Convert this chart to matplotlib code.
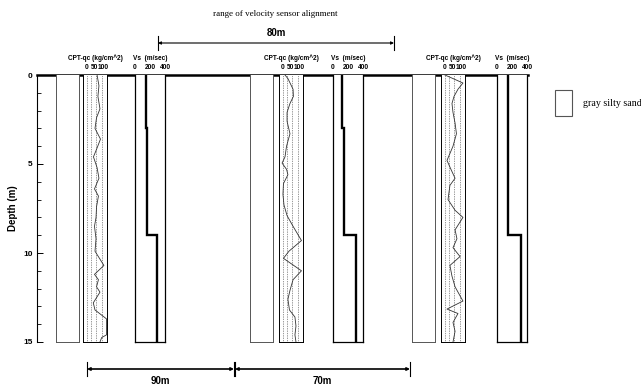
import matplotlib
matplotlib.use("Agg")
import matplotlib.pyplot as plt
from matplotlib.patches import Rectangle
import numpy as np

W, H = 641, 387
DPI = 100

# ---- data -------------------------------------------------------------
depth_ticks = [0, 5, 10, 15]
depth_minor = list(range(0, 16))

# CPT cone resistance qc (kg/cm^2) against depth (m) for the three holes
cpt1_depth = [0, 0.6, 1.2, 1.9, 2.4, 3.0, 3.6, 4.1, 4.6, 5.2, 5.8, 6.4, 6.8, 7.4,
              8.0, 8.5, 9.2, 9.9, 10.7, 11.2, 11.5, 11.9, 12.2, 12.8, 13.2, 13.7,
              14.6, 14.75, 15]
cpt1_qc = [62, 73, 67, 79, 59, 50, 82, 62, 41, 62, 73, 47, 70, 59,
           56, 47, 56, 50, 102, 47, 70, 59, 79, 40, 50, 117,
           117, 89, 79]

cpt2_depth = [0, 0.2, 0.8, 1.2, 1.6, 2.1, 2.6, 3.3, 4.0, 4.6, 4.95, 5.3, 5.6, 6.1,
              6.7, 7.3, 7.9, 8.5, 9.3, 9.9, 10.3, 11.0, 11.5, 12.1, 12.6, 13.2,
              13.6, 14.1, 14.6, 15]
cpt2_qc = [15, 32, 62, 64, 44, 27, 27, 44, 24, 15, -2, 24, 32, 6,
           3, 9, 27, 62, 111, 38, 6, 111, 62, 44, 32, 41,
           73, 79, 73, 79]

cpt3_depth = [0, 0.2, 0.45, 0.8, 1.2, 1.6, 2.1, 2.7, 3.3, 4.0, 4.8, 5.3, 5.8, 6.2,
              7.0, 7.6, 8.0, 8.7, 9.2, 9.7, 10.2, 10.7, 11.3, 11.9, 12.7, 13.15,
              13.4, 13.9, 14.4, 15]
cpt3_qc = [3, 50, 108, 79, 56, 44, 50, 62, 70, 50, 15, 38, 62, 32,
           21, 62, 108, 62, 73, 50, 91, 32, 44, 62, 108, 15,
           79, 50, 62, 50]

# shear-wave velocity layers: layer boundaries (m) and Vs (m/sec)
vs1_bounds = [0, 3, 9, 15]
vs1_vals = [150, 165, 290]
vs2_bounds = [0, 3, 9, 15]
vs2_vals = [125, 150, 310]
vs3_bounds = [0, 9, 15]
vs3_vals = [145, 320]

qc_ticks = [0, 50, 100]
qc_guides = [5, 25, 55, 90]
qc_range = (-20, 120)
vs_ticks = [0, 200, 400]
vs_range = (0, 400)

cpt_title = "CPT-qc (kg/cm^2)"
vs_title = "Vs  (m/sec)"
soil_label = "gray silty sand"
range_title = "range of velocity sensor alignment"
span_labels = ["80m", "90m", "70m"]

# ---- layout helpers (pixel boxes: left, top, right, bottom) ------------
fig = plt.figure(figsize=(W / DPI, H / DPI), dpi=DPI)
fig.patch.set_facecolor("white")

SANS = ["Liberation Sans", "DejaVu Sans"]
SERIF = ["Liberation Serif", "DejaVu Serif"]


def px_axes(x0, y0, x1, y1, **kw):
    return fig.add_axes([x0 / W, 1 - y1 / H, (x1 - x0) / W, (y1 - y0) / H], **kw)


TOP, BOT = 75, 342

# depth axis shared by all holes
ax = px_axes(37, TOP, 528, BOT)
ax.set_ylim(15, 0)
ax.set_xlim(0, 1)
ax.set_facecolor("none")
for s in ("right", "bottom"):
    ax.spines[s].set_visible(False)
ax.spines["top"].set_linewidth(1.8)
ax.spines["left"].set_linewidth(0.8)
ax.set_xticks([])
ax.set_yticks(depth_ticks)
ax.set_yticks(depth_minor, minor=True)
ax.set_yticklabels([str(t) for t in depth_ticks], fontsize=6,
                   fontweight="bold", family=SANS)
ax.tick_params(axis="y", which="major", direction="in", length=4, width=0.7, pad=3)
ax.tick_params(axis="y", which="minor", direction="in", length=3, width=0.6)
ax.set_ylabel("Depth (m)", fontsize=7, fontweight="bold", family=SANS, labelpad=4)

holes = [
    dict(soil=(56, 79), cpt=(83, 107), vs=(135, 165),
         d=cpt1_depth, qc=cpt1_qc, vb=vs1_bounds, vv=vs1_vals),
    dict(soil=(250, 273), cpt=(279, 303), vs=(333, 363),
         d=cpt2_depth, qc=cpt2_qc, vb=vs2_bounds, vv=vs2_vals),
    dict(soil=(412, 435), cpt=(441, 465), vs=(497, 527),
         d=cpt3_depth, qc=cpt3_qc, vb=vs3_bounds, vv=vs3_vals),
]

TICK_FS = 4.8
HEAD_FS = 4.7

for h in holes:
    # soil column
    sa = px_axes(h["soil"][0], TOP, h["soil"][1], BOT)
    sa.set_xlim(0, 1)
    sa.set_ylim(15, 0)
    sa.set_xticks([])
    sa.set_yticks([])
    for s in sa.spines.values():
        s.set_linewidth(0.7)
        s.set_color("#555555")
    sa.spines["top"].set_visible(False)
    sa.spines["bottom"].set_linestyle((0, (1, 1)))

    # CPT log
    ca = px_axes(h["cpt"][0], TOP, h["cpt"][1], BOT)
    ca.set_xlim(*qc_range)
    ca.set_ylim(15, 0)
    for g in qc_guides:
        ca.axvline(g, color="#333333", lw=0.5, ls=(0, (1, 1.5)))
    ca.plot(h["qc"], h["d"], color="#333333", lw=0.6)
    ca.xaxis.tick_top()
    ca.set_xticks(qc_ticks)
    ca.set_xticklabels([str(t) for t in qc_ticks], fontsize=TICK_FS,
                       fontweight="bold", family=SANS)
    ca.tick_params(axis="x", length=0, pad=3)
    ca.set_yticks([])
    for s in ca.spines.values():
        s.set_linewidth(0.7)
    ca.spines["top"].set_visible(False)
    ca.set_title(cpt_title, fontsize=HEAD_FS, fontweight="bold", family=SANS, pad=2.5)

    # Vs log
    va = px_axes(h["vs"][0], TOP, h["vs"][1], BOT)
    va.set_xlim(*vs_range)
    va.set_ylim(15, 0)
    bounds = np.asarray(h["vb"])
    vals = np.asarray(h["vv"])
    yy = np.column_stack([bounds[:-1], bounds[1:]]).ravel()
    xx = np.repeat(vals, 2)
    va.plot(xx, yy, color="black", lw=1.7, solid_joinstyle="miter")
    va.xaxis.tick_top()
    va.set_xticks(vs_ticks)
    va.set_xticklabels([str(t) for t in vs_ticks], fontsize=TICK_FS,
                       fontweight="bold", family=SANS)
    va.tick_params(axis="x", length=0, pad=3)
    va.set_yticks([])
    for s in va.spines.values():
        s.set_linewidth(0.9)
    va.spines["top"].set_visible(False)
    va.set_title(vs_title, fontsize=HEAD_FS, fontweight="bold", family=SANS, pad=2.5)

# overlay in pixel coordinates for dimension lines and the legend
ov = px_axes(0, 0, W, H)
ov.set_xlim(0, W)
ov.set_ylim(H, 0)
ov.axis("off")
ov.patch.set_alpha(0)


def span(x0, x1, y, label, lw, ly):
    ov.annotate("", xy=(x0, y), xytext=(x1, y),
                arrowprops=dict(arrowstyle="<|-|>", color="black", lw=lw,
                                mutation_scale=4, shrinkA=0, shrinkB=0))
    for x in (x0, x1):
        ov.plot([x, x], [y - 7, y + 7], color="black", lw=0.8)
    ov.text((x0 + x1) / 2, ly, label, ha="center", va="center", fontsize=7,
            fontweight="bold", family=SANS)


ov.text(275, 14, range_title, ha="center", va="center", fontsize=6.5, family=SERIF)
span(158, 394, 43, span_labels[0], 0.8, 33)
span(87, 234, 369, span_labels[1], 1.2, 381)
span(235, 410, 369, span_labels[2], 1.2, 381)

ov.add_patch(Rectangle((555, 90), 17, 26, fill=False, edgecolor="#555555", lw=0.8))
ov.text(583, 104, soil_label, ha="left", va="center", fontsize=7.2, family=SERIF)

fig.savefig("out.png", dpi=DPI, facecolor="white")
